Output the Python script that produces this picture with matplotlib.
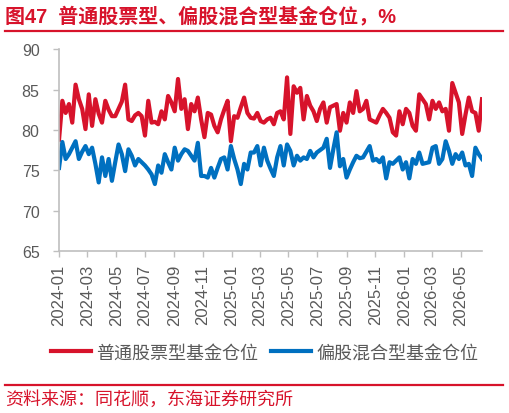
import matplotlib
matplotlib.use("Agg")
import matplotlib.pyplot as plt
import matplotlib.dates as mdates
from matplotlib.lines import Line2D
import pandas as pd

plt.rcParams["font.family"] = ["Liberation Sans", "Noto Sans CJK SC", "DejaVu Sans"]

RED = "#D7132B"
BLUE = "#0070C0"
GRAY = "#595959"
AXIS_GRAY = "#BFBFBF"

# weekly fund positions (%)
start_date = "2024-01-01"
stock_fund = [
    78.8, 83.6, 82.1, 83.2, 80.9, 85.6, 83.8, 82.6, 80.1, 84.4,
    80.5, 83.8, 82.0, 80.9, 83.6, 82.5, 81.7, 81.7, 82.6, 83.5,
    85.6, 81.3, 81.1, 81.8, 82.1, 81.7, 79.3, 83.6, 80.9, 81.0,
    80.7, 82.3, 81.3, 84.2, 83.4, 82.3, 86.3, 82.6, 83.8, 80.1,
    83.2, 82.3, 84.0, 81.3, 79.1, 82.1, 81.9, 80.5, 79.7, 81.3,
    82.5, 83.6, 78.6, 81.7, 81.5, 82.8, 84.0, 82.1, 81.5, 81.4,
    82.1, 81.1, 80.9, 81.3, 81.5, 80.7, 82.1, 82.3, 81.3, 86.5,
    79.5, 85.4, 84.6, 85.2, 81.3, 84.2, 83.0, 82.3, 81.1, 82.6,
    83.4, 80.9, 82.8, 83.0, 83.2, 79.9, 82.1, 80.9, 83.4, 82.1,
    84.8, 82.3, 82.6, 83.6, 81.3, 81.1, 80.9, 81.8, 82.6, 82.1,
    81.5, 79.7, 79.3, 82.3, 80.7, 82.6, 82.1, 80.5, 79.9, 84.4,
    83.8, 83.2, 81.3, 83.6, 82.6, 83.4, 82.3, 82.6, 79.9, 85.8,
    84.6, 83.4, 79.5, 81.9, 84.0, 82.3, 82.1, 79.9, 83.8,
]
mixed_fund = [
    75.3, 78.5, 76.4, 77.0, 77.8, 78.6, 76.4, 77.3, 78.0, 77.0,
    77.8, 75.8, 73.5, 76.6, 74.3, 76.4, 73.7, 76.0, 78.2, 77.0,
    74.9, 77.6, 76.8, 75.6, 76.4, 76.0, 75.6, 75.1, 74.5, 73.3,
    75.6, 74.7, 77.0, 76.0, 75.1, 77.8, 76.2, 77.0, 77.6, 77.4,
    76.8, 76.2, 78.4, 74.3, 74.3, 74.1, 75.3, 74.1, 75.3, 76.4,
    76.6, 75.1, 78.0, 76.4, 75.1, 73.3, 75.8, 75.1, 77.2, 77.2,
    78.0, 75.6, 77.8, 76.2, 75.2, 74.3, 76.6, 78.0, 75.6, 78.2,
    77.4, 75.6, 76.8, 76.2, 76.6, 76.4, 77.4, 76.6, 77.2, 77.5,
    77.8, 78.9, 75.3, 77.6, 79.7, 75.5, 76.4, 74.1, 75.1, 76.0,
    76.8, 76.5, 76.6, 77.3, 78.0, 76.2, 76.4, 76.0, 76.6, 74.0,
    76.0, 75.8, 76.2, 76.6, 75.1, 76.0, 74.0, 76.4, 75.8, 77.2,
    75.8, 75.9, 76.0, 77.8, 78.0, 75.8, 76.4, 78.6, 77.4, 75.8,
    77.0, 76.4, 77.2, 75.6, 75.8, 74.3, 77.8, 77.0, 76.4,
]
labels = ["普通股票型基金仓位", "偏股混合型基金仓位"]
title = "图47  普通股票型、偏股混合型基金仓位，%"
source = "资料来源：同花顺，东海证券研究所"

dates = pd.date_range(start_date, periods=len(stock_fund), freq="7D")

fig = plt.figure(figsize=(5.09, 4.14), dpi=100)
ax = fig.add_axes([0.116, 0.391, 0.831, 0.488])

ax.plot(dates, stock_fund, color=RED, lw=3.0, label=labels[0], solid_joinstyle="round")
ax.plot(dates, mixed_fund, color=BLUE, lw=3.0, label=labels[1], solid_joinstyle="round")

ax.set_ylim(65, 90)
ax.set_yticks([65, 70, 75, 80, 85, 90])
ax.set_xlim(pd.Timestamp(start_date), dates[-1])
ax.xaxis.set_major_locator(mdates.MonthLocator(bymonth=[1, 3, 5, 7, 9, 11]))
ax.xaxis.set_major_formatter(mdates.DateFormatter("%Y-%m"))

for s in ["top", "right"]:
    ax.spines[s].set_visible(False)
for s in ["left", "bottom"]:
    ax.spines[s].set_color(AXIS_GRAY)
    ax.spines[s].set_linewidth(1.2)

ax.tick_params(axis="y", colors=AXIS_GRAY, labelcolor=GRAY, labelsize=11.5,
               length=4, width=1, pad=10)
ax.tick_params(axis="x", colors=AXIS_GRAY, labelcolor=GRAY, labelsize=12,
               length=4, width=1, pad=5, labelrotation=90)

fig.legend(loc="center", bbox_to_anchor=(0.52, 0.145), ncol=2, frameon=False,
           fontsize=13, labelcolor=GRAY, handlelength=2.2, handletextpad=0.3,
           columnspacing=0.7)

fig.text(0.01, 0.961, title, color=RED, fontsize=14.4, fontweight="bold",
         ha="left", va="center")
fig.add_artist(Line2D([0.01, 0.988], [0.922, 0.922], color=RED, lw=1.6))
fig.add_artist(Line2D([0.01, 0.988], [0.068, 0.068], color=RED, lw=1.6))
fig.text(0.01, 0.034, source, color=RED, fontsize=13, ha="left", va="center")

fig.savefig("out.png", dpi=100)
